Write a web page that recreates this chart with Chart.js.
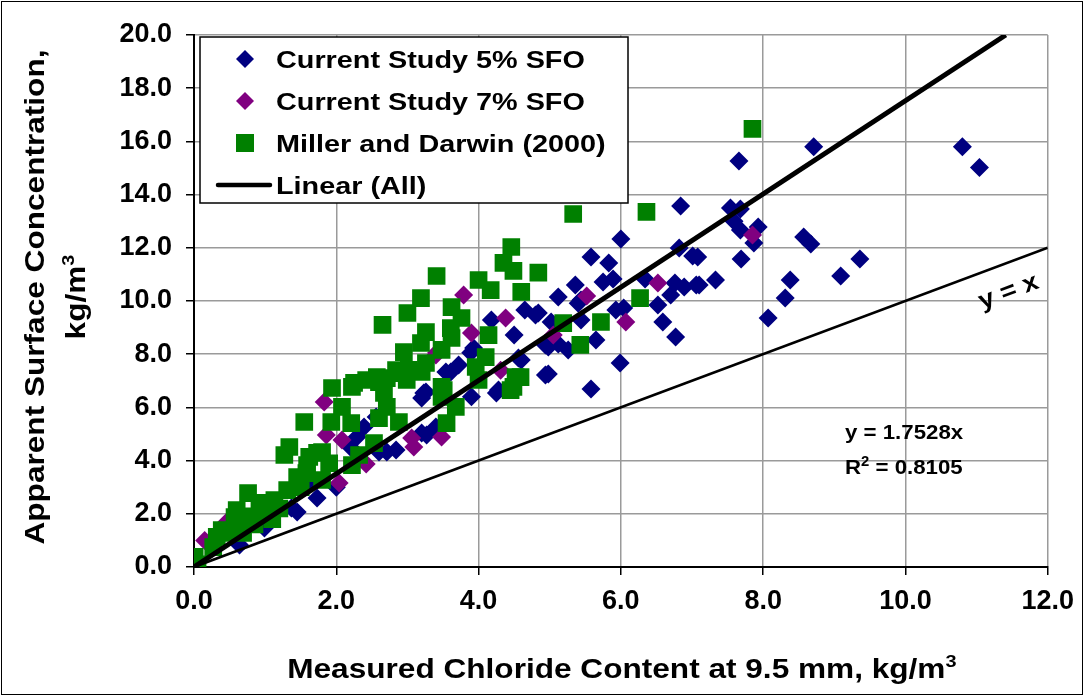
<!DOCTYPE html>
<html>
<head>
<meta charset="utf-8">
<script src="https://cdn.jsdelivr.net/npm/chart.js@4/dist/chart.umd.min.js"></script>
<style>
  html, body { margin: 0; padding: 0; background: #fff; }
  canvas { display: block; }
</style>
</head>
<body>
<canvas id="c" width="1084" height="696"></canvas>
<script>
// ---------- DATA ----------
const seriesNames = ['Current Study 5% SFO', 'Current Study 7% SFO', 'Miller and Darwin (2000)', 'Linear (All)'];
const xTitle = 'Measured Chloride Content at 9.5 mm, kg/m';
const yTitle = ['Apparent Surface Concentration,', 'kg/m'];
const unitPower = '3';

const study5X = [10.80,11.04,8.71,7.66,7.54,7.68,7.59,7.68,7.93,7.87,7.08,7.69,7.33,7.10,8.57,8.67,9.36,9.09,8.38,8.31,8.07,
  6.84,6.00,5.58,5.83,6.82,7.01,5.75,5.89,5.36,5.12,5.44,6.34,6.76,6.89,7.06,6.70,6.52,5.93,6.04,6.59,6.77,5.65,5.99,4.98,5.58,4.84,5.44,5.02,4.98,5.26,5.12,5.40,
  4.65,4.80,4.50,4.60,4.28,4.94,4.94,4.18,3.93,3.89,3.72,3.61,4.56,3.23,4.25,3.90,
  3.26,3.20,3.54,3.27,3.40,2.71,2.84,2.60,2.29,2.39,2.21,1.66,2.00,2.56,3.20,
  1.45,1.37,1.73,0.99,0.64];
const study5Y = [15.80,15.02,15.80,15.26,13.50,13.46,13.00,12.67,12.78,12.18,11.65,11.58,10.79,10.60,12.41,12.14,11.58,10.94,10.79,10.11,9.36,
  13.57,12.33,11.65,11.43,11.99,11.69,10.71,10.83,10.60,10.15,10.04,10.83,10.68,10.53,10.60,10.23,9.85,9.66,9.74,9.21,8.65,8.53,7.67,7.26,6.69,9.55,9.29,9.21,8.27,8.16,8.38,9.92,
  9.66,9.47,8.72,7.78,6.65,8.35,7.22,9.29,8.23,8.05,7.59,7.33,7.86,6.54,6.54,6.40,
  6.58,6.35,7.33,4.96,5.26,4.32,4.40,4.32,4.89,5.26,4.47,3.16,3.00,5.64,5.04,
  2.07,2.22,2.59,1.47,0.83];

const study7X = [7.85,6.52,5.52,6.07,5.05,4.38,3.79,3.90,3.40,4.31,1.83,1.86,2.08,2.42,3.06,3.48,3.41,2.04,0.15,0.46,3.09];
const study7Y = [12.48,10.68,10.19,9.21,8.72,9.36,10.23,8.80,7.97,7.40,6.20,4.96,4.77,3.87,4.85,4.89,8.05,3.16,1.00,1.69,4.51];

const millerX = [7.85,5.33,6.36,4.46,4.35,4.49,4.84,4.60,6.27,5.19,5.72,5.43,4.59,4.49,
  4.00,4.17,3.41,3.19,3.00,3.62,3.76,2.65,3.26,3.61,3.62,4.14,3.19,2.95,3.48,4.10,2.71,3.02,3.20,3.96,4.52,4.00,3.51,4.45,2.67,
  1.94,2.22,2.42,2.57,2.88,2.99,1.55,1.93,2.08,2.21,2.60,2.88,2.53,2.32,1.62,1.80,1.58,1.80,2.22,2.71,3.48,
  3.55,3.68,3.48,3.26,2.25,2.60,2.84,
  0.00,0.01,0.05,0.32,0.27,0.60,0.76,0.57,0.92,1.13,1.31,1.45,1.59,1.73,1.34,1.27,0.95,0.39,0.48,0.69,0.80,1.00,1.10,0.85,1.20,1.50,1.90];
const millerY = [16.47,13.27,13.35,12.03,11.43,11.13,11.07,10.34,10.11,9.17,9.21,8.35,7.14,6.77,
  10.79,10.41,10.94,10.11,9.55,9.77,9.36,9.10,8.83,8.98,8.61,8.72,8.42,8.08,8.16,7.89,7.10,7.41,7.33,7.52,7.14,7.03,6.65,6.65,6.54,
  6.73,6.77,7.03,7.14,7.29,7.03,5.45,5.45,6.02,5.41,5.60,5.45,4.66,4.21,4.14,4.32,3.53,3.27,3.83,6.02,6.77,
  5.41,6.02,6.39,7.67,6.92,6.95,7.40,
  0.20,0.38,0.10,1.13,0.75,2.14,2.78,1.88,2.22,2.52,2.89,3.38,3.83,4.29,4.51,4.21,2.41,1.39,1.28,1.28,1.90,2.00,1.80,1.60,2.20,3.00,3.90];

const trendSlope = 1.7528;
const trendR2 = 0.8105;
const trendX = [0, 20 / trendSlope];
const identityX = [0, 12];

const xTicks = [0, 2, 4, 6, 8, 10, 12];
const yTicks = [0, 2, 4, 6, 8, 10, 12, 14, 16, 18, 20];

// ---------- BUILD ----------
const pts = (xs, ys) => xs.map((x, i) => ({ x: x, y: ys[i] }));
const FONT = '"Liberation Sans", Arial, sans-serif';
const NAVY = '#000080', PURPLE = '#800080', GREEN = '#008000';

// draw text stretched horizontally (in its own direction), with optional superscript
function stretchText(ctx, text, sup, font, supFont, x, y, sx, align) {
  ctx.save();
  ctx.font = font;
  const w = ctx.measureText(text).width;
  let sw = 0;
  if (sup) { ctx.font = supFont; sw = ctx.measureText(sup).width; }
  const total = (w + sw) * sx;
  let start = align === 'center' ? -total / 2 : 0;
  ctx.translate(x + start, y);
  ctx.scale(sx, 1);
  ctx.textAlign = 'left';
  ctx.textBaseline = 'alphabetic';
  ctx.fillStyle = '#000';
  ctx.font = font;
  ctx.fillText(text, 0, 0);
  if (sup) {
    ctx.font = supFont;
    const fs = parseFloat(font.match(/(\d+(\.\d+)?)px/)[1]);
    ctx.fillText(sup, w, -fs * 0.42);
  }
  ctx.restore();
}

const decorPlugin = {
  id: 'decor',
  afterDraw(chart) {
    const ctx = chart.ctx;
    const xs = chart.scales.x, ys = chart.scales.y;
    const ca = chart.chartArea;
    ctx.save();
    // Outer frame
    ctx.strokeStyle = '#000'; ctx.lineWidth = 1;
    ctx.strokeRect(1.5, 1.5, chart.width - 3, chart.height - 3);

    // Axis titles
    const tFont = 'bold 27px ' + FONT, sFont = 'bold 17px ' + FONT;
    stretchText(ctx, xTitle, unitPower, tFont, sFont, (ca.left + ca.right) / 2 + 1, 678, 1.17, 'center');
    ctx.save();
    ctx.translate(0, 0);
    const cy = (ca.top + ca.bottom) / 2 - 4;
    ctx.save(); ctx.translate(44, cy); ctx.rotate(-Math.PI / 2);
    stretchText(ctx, yTitle[0], null, tFont, sFont, 0, 0, 1.17, 'center');
    ctx.restore();
    ctx.save(); ctx.translate(85, cy); ctx.rotate(-Math.PI / 2);
    stretchText(ctx, yTitle[1], unitPower, tFont, sFont, 0, 0, 1.17, 'center');
    ctx.restore();
    ctx.restore();

    // Legend box
    const lx = 200, ly = 37, lw = 428, lh = 166;
    ctx.fillStyle = '#fff';
    ctx.fillRect(lx, ly, lw, lh);
    ctx.strokeStyle = '#000'; ctx.lineWidth = 1.5;
    ctx.strokeRect(lx, ly, lw, lh);
    const rows = [59, 101, 143, 185];
    const mx = 245, tx = 276;
    rows.forEach((ry, i) => {
      if (i === 0 || i === 1) {
        ctx.fillStyle = i === 0 ? NAVY : PURPLE;
        ctx.beginPath();
        ctx.moveTo(mx, ry - 9); ctx.lineTo(mx + 9, ry); ctx.lineTo(mx, ry + 9); ctx.lineTo(mx - 9, ry);
        ctx.closePath(); ctx.fill();
      } else if (i === 2) {
        ctx.fillStyle = GREEN;
        ctx.fillRect(mx - 9, ry - 9, 18, 18);
      } else {
        ctx.strokeStyle = '#000'; ctx.lineWidth = 4.5; ctx.lineCap = 'round';
        ctx.beginPath(); ctx.moveTo(218, ry); ctx.lineTo(270, ry); ctx.stroke();
      }
      stretchText(ctx, seriesNames[i], null, 'bold 24px ' + FONT, null, tx, ry + 9, 1.2, 'left');
    });

    // Regression notes
    const nx = xs.getPixelForValue(9.15);
    stretchText(ctx, 'y = ' + trendSlope.toFixed(4) + 'x', null, 'bold 21px ' + FONT, null, nx, ys.getPixelForValue(4.8), 1.06, 'left');
    stretchText(ctx, 'R', null, 'bold 21px ' + FONT, null, nx, ys.getPixelForValue(3.48), 1.06, 'left');
    ctx.font = 'bold 21px ' + FONT;
    const rw = ctx.measureText('R').width * 1.06;
    stretchText(ctx, '', '2', 'bold 21px ' + FONT, 'bold 14px ' + FONT, nx + rw, ys.getPixelForValue(3.48), 1.06, 'left');
    ctx.font = 'bold 14px ' + FONT;
    const r2w = ctx.measureText('2').width * 1.06;
    stretchText(ctx, ' = ' + trendR2.toFixed(4), null, 'bold 21px ' + FONT, null, nx + rw + r2w, ys.getPixelForValue(3.48), 1.06, 'left');

    // y = x label
    const px = xs.getPixelForValue(11.44), py = ys.getPixelForValue(10.41);
    const ang = Math.atan2(ys.getPixelForValue(1) - ys.getPixelForValue(0), xs.getPixelForValue(1) - xs.getPixelForValue(0));
    ctx.save();
    ctx.translate(px, py);
    ctx.rotate(ang);
    stretchText(ctx, 'y = x', null, 'bold 25px ' + FONT, null, 0, 9, 1.1, 'center');
    ctx.restore();
    ctx.restore();
  }
};

const tickFont = { family: FONT, size: 27, weight: 'bold' };

new Chart(document.getElementById('c'), {
  type: 'scatter',
  data: {
    datasets: [
      { label: seriesNames[0], data: pts(study5X, study5Y), pointStyle: 'rectRot', pointRadius: 9.5,
        backgroundColor: NAVY, borderColor: NAVY, borderWidth: 0, order: 4 },
      { label: seriesNames[1], data: pts(study7X, study7Y), pointStyle: 'rectRot', pointRadius: 9.5,
        backgroundColor: PURPLE, borderColor: PURPLE, borderWidth: 0, order: 3 },
      { label: seriesNames[2], data: pts(millerX, millerY), pointStyle: 'rect', pointRadius: 12.5,
        backgroundColor: GREEN, borderColor: GREEN, borderWidth: 0, order: 2 },
      { label: seriesNames[3], type: 'line', data: trendX.map(x => ({ x: x, y: trendSlope * x })),
        borderColor: '#000', borderWidth: 5, pointRadius: 0, fill: false, order: 1 },
      { label: 'y = x', type: 'line', data: identityX.map(x => ({ x: x, y: x })),
        borderColor: '#000', borderWidth: 2.6, pointRadius: 0, fill: false, order: 1 }
    ]
  },
  options: {
    responsive: false,
    animation: false,
    devicePixelRatio: 1,
    layout: { padding: { top: 35, right: 32, left: 0, bottom: 0 } },
    plugins: { legend: { display: false }, tooltip: { enabled: false } },
    scales: {
      x: {
        type: 'linear', min: 0, max: 12,
        afterBuildTicks: s => { s.ticks = xTicks.map(v => ({ value: v })); },
        afterFit: s => { s.height = 129; },
        ticks: { font: tickFont, color: '#000', padding: 10, callback: v => Number(v).toFixed(1), maxRotation: 0 },
        grid: { color: '#9a9a9a', lineWidth: 1.5, tickLength: 8, tickColor: '#000', tickWidth: 1.5 },
        border: { color: '#000', width: 2 }
      },
      y: {
        type: 'linear', min: 0, max: 20,
        afterBuildTicks: s => { s.ticks = yTicks.map(v => ({ value: v })); },
        afterFit: s => { s.width = 194; },
        ticks: { font: tickFont, color: '#000', padding: 14, callback: v => Number(v).toFixed(1) },
        grid: { color: '#9a9a9a', lineWidth: 1.5, tickLength: 8, tickColor: '#000', tickWidth: 1.5 },
        border: { color: '#000', width: 2 }
      }
    }
  },
  plugins: [decorPlugin]
});
</script>
</body>
</html>
